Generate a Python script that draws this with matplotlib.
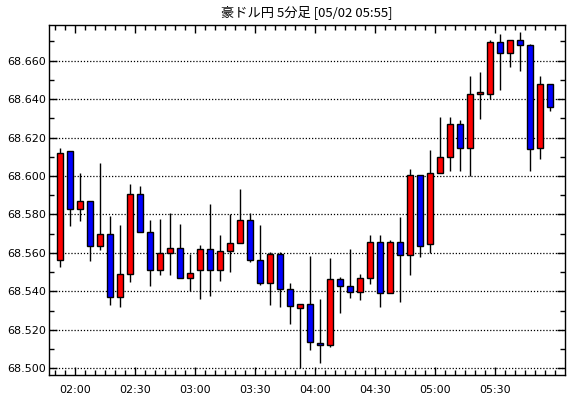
import matplotlib
matplotlib.use("Agg")
import matplotlib.pyplot as plt
import numpy as np

# --- datos de las velas (5 minutos) ---
opens = [68.5562, 68.6129, 68.5829, 68.5871, 68.5636, 68.5700, 68.5369, 68.5488, 68.5907, 68.5710,
         68.5509, 68.5602, 68.5628, 68.5472, 68.5509, 68.5618, 68.5509, 68.5608, 68.5649, 68.5769,
         68.5561, 68.5442, 68.5592, 68.5410, 68.5312, 68.5332, 68.5130, 68.5119, 68.5463, 68.5430,
         68.5399, 68.5472, 68.5658, 68.5389, 68.5658, 68.5591, 68.6005, 68.5646, 68.6017, 68.6100,
         68.6271, 68.6147, 68.6427, 68.6427, 68.6697, 68.6640, 68.6707, 68.6681, 68.6147, 68.6479]
highs = [68.6145, 68.6129, 68.6017, 68.5871, 68.6069, 68.5790, 68.5743, 68.5960, 68.5950, 68.5769,
         68.5778, 68.5810, 68.5748, 68.5595, 68.5641, 68.5854, 68.5693, 68.5800, 68.5932, 68.5810,
         68.5745, 68.5603, 68.5603, 68.5442, 68.5332, 68.5582, 68.5359, 68.5572, 68.5473, 68.5618,
         68.5489, 68.5691, 68.5691, 68.5668, 68.5789, 68.6036, 68.6005, 68.6133, 68.6308, 68.6308,
         68.6289, 68.6522, 68.6543, 68.6707, 68.6740, 68.6707, 68.6751, 68.6687, 68.6522, 68.6479]
lows = [68.5528, 68.5738, 68.5766, 68.5559, 68.5614, 68.5331, 68.5321, 68.5450, 68.5710, 68.5429,
        68.5486, 68.5486, 68.5472, 68.5400, 68.5358, 68.5377, 68.5452, 68.5499, 68.5649, 68.5551,
        68.5431, 68.5331, 68.5320, 68.5229, 68.5000, 68.5097, 68.5029, 68.5109, 68.5288, 68.5366,
        68.5356, 68.5439, 68.5320, 68.5389, 68.5345, 68.5485, 68.5579, 68.5602, 68.6017, 68.6026,
        68.6026, 68.6001, 68.6296, 68.6401, 68.6446, 68.6565, 68.6545, 68.6026, 68.6088, 68.6337]
closes = [68.6119, 68.5829, 68.5871, 68.5636, 68.5700, 68.5369, 68.5488, 68.5907, 68.5710, 68.5509,
          68.5602, 68.5628, 68.5472, 68.5498, 68.5619, 68.5509, 68.5608, 68.5649, 68.5769, 68.5561,
          68.5442, 68.5592, 68.5410, 68.5322, 68.5332, 68.5138, 68.5119, 68.5463, 68.5430, 68.5399,
          68.5472, 68.5658, 68.5389, 68.5658, 68.5591, 68.6005, 68.5636, 68.6017, 68.6100, 68.6271,
          68.6147, 68.6427, 68.6437, 68.6697, 68.6640, 68.6707, 68.6681, 68.6142, 68.6479, 68.6360]

etiquetas_x = ["02:00", "02:30", "03:00", "03:30", "04:00", "04:30", "05:00", "05:30"]
precios_y = [68.500, 68.520, 68.540, 68.560, 68.580, 68.600, 68.620, 68.640, 68.660]
titulo = "豪ドル円 5分足 [05/02 05:55]"

# --- figura ---
fig = plt.figure(figsize=(5.7, 3.98), dpi=100)
ax = fig.add_axes([49 / 570, 23 / 398, 516 / 570, 350.3 / 398])

o = np.array(opens)
c = np.array(closes)
x = np.arange(len(o))
sube = c >= o
colores = np.where(sube, "#ff0000", "#0000ff")

# mechas y cuerpos
ax.vlines(x, lows, highs, color="black", linewidth=1, zorder=2)
ax.bar(x, np.abs(c - o), bottom=np.minimum(o, c), width=0.62,
       color=colores, edgecolor="black", linewidth=1, zorder=3)

ax.set_xlim(-1.13, 50.47)
ax.set_ylim(68.4965, 68.6787)

# cuadricula horizontal punteada
for p in precios_y:
    ax.axhline(p, color="black", linewidth=0.9, linestyle=(0, (1, 1.5)), zorder=1)

# ejes x: mayores cada 30 min, menores cada 5 min
ax.set_xticks(1.5 + 6 * np.arange(len(etiquetas_x)))
ax.set_xticklabels(etiquetas_x)
ax.set_xticks(np.arange(-0.5, 50.5, 1.0), minor=True)
ax.set_yticks(precios_y)
ax.set_yticklabels([f"{p:.3f}" for p in precios_y])
ax.set_yticks(np.arange(68.51, 68.68, 0.02), minor=True)

ax.tick_params(axis="both", which="both", direction="in", top=True, right=True,
               colors="black", labelsize=8)
ax.tick_params(axis="both", which="major", length=6, width=1)
ax.tick_params(axis="both", which="minor", length=3.5, width=1)
ax.tick_params(axis="x", pad=7)
ax.tick_params(axis="y", pad=2)

for lado in ax.spines.values():
    lado.set_linewidth(1.0)
    lado.set_color("black")

fig.text((49 + 565) / 2 / 570, 1 - 12 / 398, titulo, ha="center", va="center",
         fontsize=9.5, family=["Noto Sans CJK JP", "DejaVu Sans"])

fig.savefig("out.png", dpi=100)
